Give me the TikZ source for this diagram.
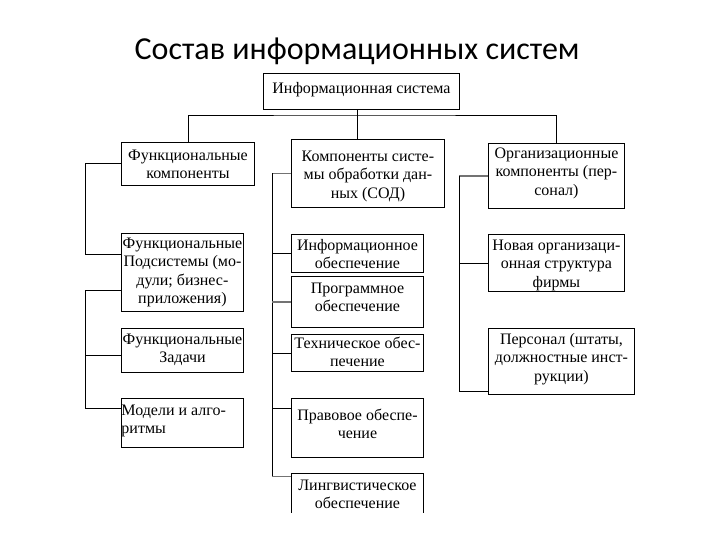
\documentclass[tikz,border=0pt]{standalone}
\usepackage{fontspec}
\setmainfont{Liberation Serif}
\newfontfamily\titelfont{Carlito}
\usepackage{xcolor}
% Rahmeninhalt: [Ausrichtung]{Abstand oben}{Hoehe}{Breite}{Text}
\newcommand{\inhalt}[5][\centering]{\parbox[t][#3][t]{#4}{#1\vspace*{#2}\strut #5}}

\begin{document}
\begin{tikzpicture}[x=1pt, y=-1pt,
    blok/.style={draw, line width=0.9pt, anchor=north west, inner sep=0pt,
      font=\fontsize{16pt}{18.4pt}\selectfont},
    linie/.style={line width=0.9pt},
    grau/.style={line width=1.2pt, black!55}]
  \useasboundingbox (0,0) rectangle (720,540);
  \node[font=\titelfont\fontsize{32pt}{38pt}\selectfont, anchor=base] (titel) at (357,60) {Состав информационных систем};
  % Kopf
  \node[blok] (is) at (263,73) {\inhalt{7pt}{36pt}{196pt}{Информационная система}};
  % linke Spalte
  \node[blok] (fk) at (121,142) {\inhalt{5pt}{43pt}{133pt}{Функциональные\\компоненты}};
  \node[blok] (fp) at (121,233) {\inhalt{2pt}{78pt}{122pt}{Функциональные\\Подсистемы (мо-\\дули; бизнес-\\приложения)}};
  \node[blok] (fz) at (121,328) {\inhalt{3pt}{44pt}{122pt}{Функциональные\\Задачи}};
  \node[blok] (ma) at (121,398) {\inhalt[\raggedright]{4pt}{49pt}{122pt}{Модели и алго-\\ритмы}};
  % mittlere Spalte
  \node[blok] (sod) at (291,139) {\inhalt{9pt}{68pt}{153pt}{Компоненты систе-\\мы обработки дан-\\ных (СОД)}};
  \node[blok] (io) at (291,234) {\inhalt{3pt}{38pt}{132pt}{Информационное\\обеспечение}};
  \node[blok] (po) at (291,276) {\inhalt{4pt}{51pt}{132pt}{Программное\\обеспечение}};
  \node[blok] (te) at (291,334) {\inhalt{1pt}{37pt}{132pt}{Техническое обес-\\печение}};
  \node[blok] (pr) at (291,398) {\inhalt{9pt}{59pt}{132pt}{Правовое обеспе-\\чение}};
  \begin{scope}
    \clip (0,0) rectangle (720,512);
    \node[blok] (lo) at (291,473) {\inhalt{4pt}{50pt}{132pt}{Лингвистическое\\обеспечение}};
  \end{scope}
  % rechte Spalte
  \node[blok] (ok) at (488,143) {\inhalt{2pt}{65pt}{136pt}{Организационные\\компоненты (пер-\\сонал)}};
  \node[blok] (ns) at (488,234) {\inhalt{3pt}{57pt}{136pt}{Новая организаци-\\онная структура\\фирмы}};
  \node[blok] (ps) at (488,328) {\inhalt{3pt}{66pt}{146pt}{Персонал (штаты,\\должностные инст-\\рукции)}};

  % Verbindungen
  \coordinate (mitte) at (357,115);
  \coordinate (s1) at (85,0);
  \coordinate (s2) at (272,0);
  \coordinate (s3) at (459,0);
  \draw[linie] (mitte |- is.south) -- (mitte |- sod.north);
  \draw[linie] (fk.north) |- (mitte) -| (ok.north);
  % links
  \draw[linie] (fk.west) -| (s1 |- fp.164) -- (fp.164);
  \draw[linie] (fp.196) -- (s1 |- fp.196) |- (ma.167);
  \draw[linie] (s1 |- fz.185) -- (fz.185);
  % Mitte
  \draw[grau] (sod.west) -- (s2 |- sod.west);
  \draw[linie] (s2 |- sod.west) -- (s2 |- lo.162);
  \draw[grau] (s2 |- lo.162) -- (lo.162);
  \draw[linie] (s2 |- io.west) -- (io.west);
  \draw[grau] (s2 |- po.west) -- (po.west);
  \draw[linie] (s2 |- te.west) -- (te.west);
  \draw[linie] (s2 |- pr.164) -- (pr.164);
  % rechts
  \draw[grau] (ok.west) -- (s3 |- ok.west);
  \draw[linie] (s3 |- ok.west) |- (ps.202);
  \draw[linie] (s3 |- ns.west) -- (ns.west);
\end{tikzpicture}
\end{document}
